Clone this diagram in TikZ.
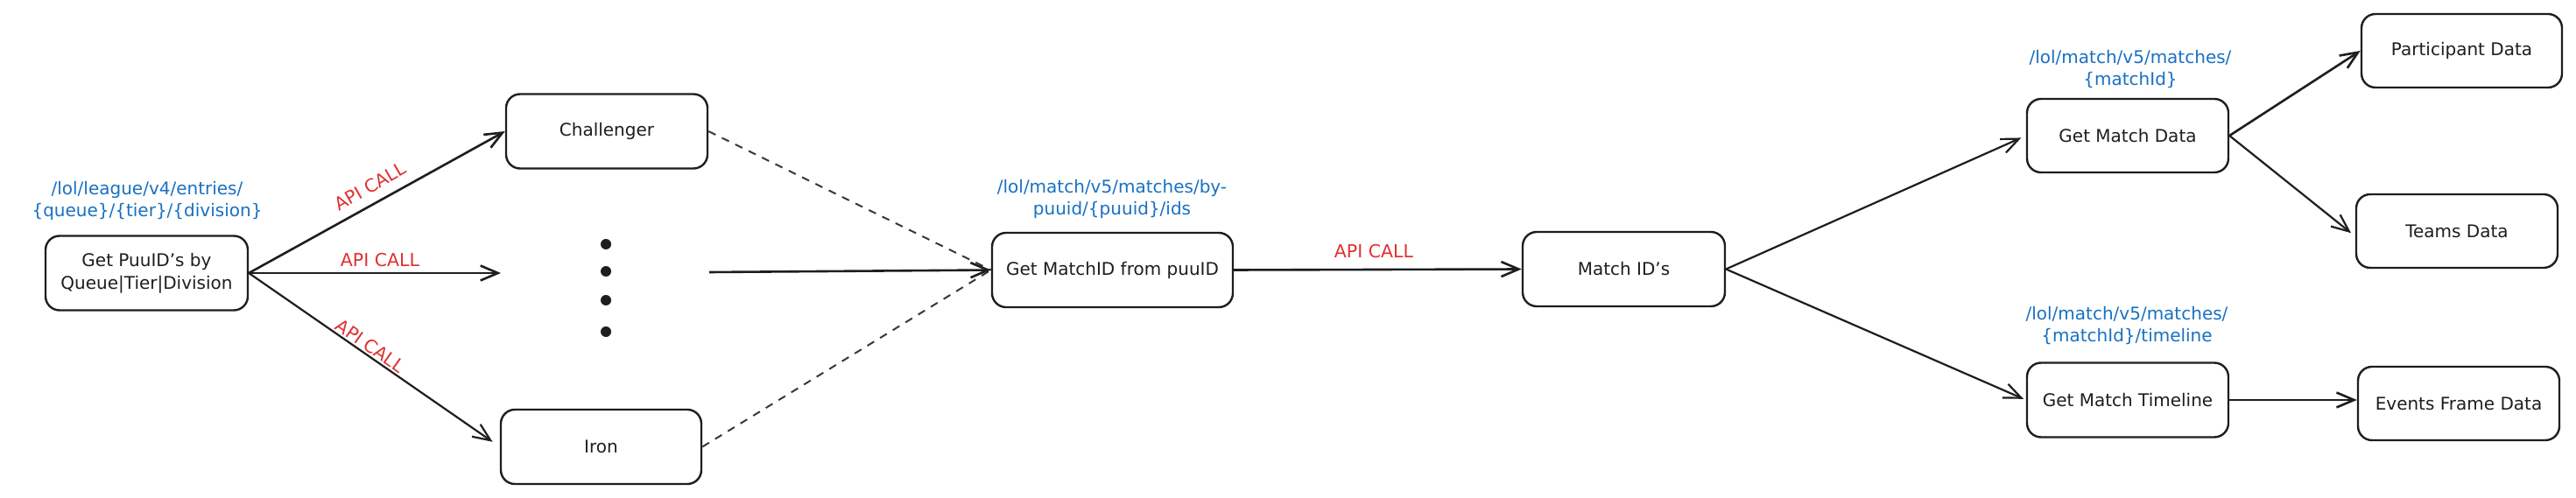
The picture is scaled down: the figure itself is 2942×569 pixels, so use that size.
\documentclass[tikz,border=0pt]{standalone}
\usepackage{fontspec}
\setmainfont{DejaVu Sans}
\usetikzlibrary{arrows.meta}
\definecolor{ink}{HTML}{1E1E1E}
\definecolor{apiblue}{HTML}{1971C2}
\definecolor{apired}{HTML}{E03131}
\definecolor{dashgray}{HTML}{343A40}
\begin{document}
\begin{tikzpicture}[x=1pt,y=-1pt,
  box/.style={draw=ink, line width=2.4pt, rounded corners=16pt, minimum width=230pt, minimum height=85pt, inner sep=0pt, align=center, font=\fontsize{20}{26}\selectfont, text=ink},
  endpoint/.style={text=apiblue, align=center, font=\fontsize{20}{25}\selectfont, inner sep=0pt},
  apilabel/.style={text=apired, font=\fontsize{20.5}{24}\selectfont, inner sep=0pt},
  arr/.style={draw=ink, line width=2.6pt, -{Straight Barb[length=20pt,width=17pt]}},
  dashlink/.style={draw=dashgray, line width=2pt, dash pattern=on 9pt off 8pt},
  dotmark/.style={circle, fill=ink, minimum size=12pt, inner sep=0pt}
]
\useasboundingbox[fill=white] (0,0) rectangle (2942,569);

% nodes
\node[box, minimum width=231pt] (puu) at (167.5,312) {Get PuuID's by\\Queue|Tier|Division};
\node[endpoint] (lblpuu) at (168,229.5) {/lol/league/v4/entries/\\\{queue\}/\{tier\}/\{division\}};

\node[box] (chal) at (693,150) {Challenger};
\node[box, minimum width=229pt] (iron) at (686.5,510.5) {Iron};

\node[dotmark] (d1) at (692,279) {};
\node[dotmark] (d2) at (692,310) {};
\node[dotmark] (d3) at (692,343) {};
\node[dotmark] (d4) at (692,379) {};

\coordinate (midend) at (572,312);
\coordinate (midstart) at (810,311);

\node[box, minimum width=275pt] (getmid) at (1270.5,308.5) {Get MatchID from puuID};
\node[endpoint] (lblgetmid) at (1270,227.5) {/lol/match/v5/matches/by-\\puuid/\{puuid\}/ids};

\node[box, minimum width=231pt] (matchids) at (1854.5,307.5) {Match ID's};

\node[box, minimum height=84pt] (getmatch) at (2430,155) {Get Match Data};
\node[endpoint] (lblmatch) at (2433,79.5) {/lol/match/v5/matches/\\\{matchId\}};

\node[box] (timeline) at (2430,457) {Get Match Timeline};
\node[endpoint] (lbltime) at (2429,372.5) {/lol/match/v5/matches/\\\{matchId\}/timeline};

\node[box, minimum width=229pt, minimum height=84pt] (part) at (2811.5,58) {Participant Data};
\node[box, minimum height=84pt] (teams) at (2806,264) {Teams Data};
\node[box, minimum height=84pt] (events) at (2808,461) {Events Frame Data};

% connectors
\draw[arr] (puu.east) -- (chal.west);
\draw[arr] (puu.east) -- (midend);
\draw[arr, line width=2.2pt, shorten >=10pt] (puu.east) -- (iron.west);

\node[apilabel, rotate=30] (api1) at (423,213) {API CALL};
\node[apilabel] (api2) at (434,297) {API CALL};
\node[apilabel, rotate=-35] (api3) at (423,395) {API CALL};

\draw[dashlink] (chal.east) -- (getmid.west);
\draw[dashlink] (iron.east) -- (getmid.west);
\draw[arr] (midstart) -- (getmid.west);

\draw[arr] (getmid.east) -- (matchids.west);
\node[apilabel] (api4) at (1569,287) {API CALL};

\draw[arr, line width=2.2pt, shorten >=6pt] (matchids.east) -- (getmatch.west);
\draw[arr, line width=2.2pt, shorten >=3pt] (matchids.east) -- (timeline.west);

\draw[arr] (getmatch.east) -- (part.west);
\draw[arr, line width=2.2pt, shorten >=6pt] (getmatch.east) -- ([yshift=-6pt]teams.west);
\draw[arr] (timeline.east) -- (timeline.east -| events.west);
\end{tikzpicture}
\end{document}
